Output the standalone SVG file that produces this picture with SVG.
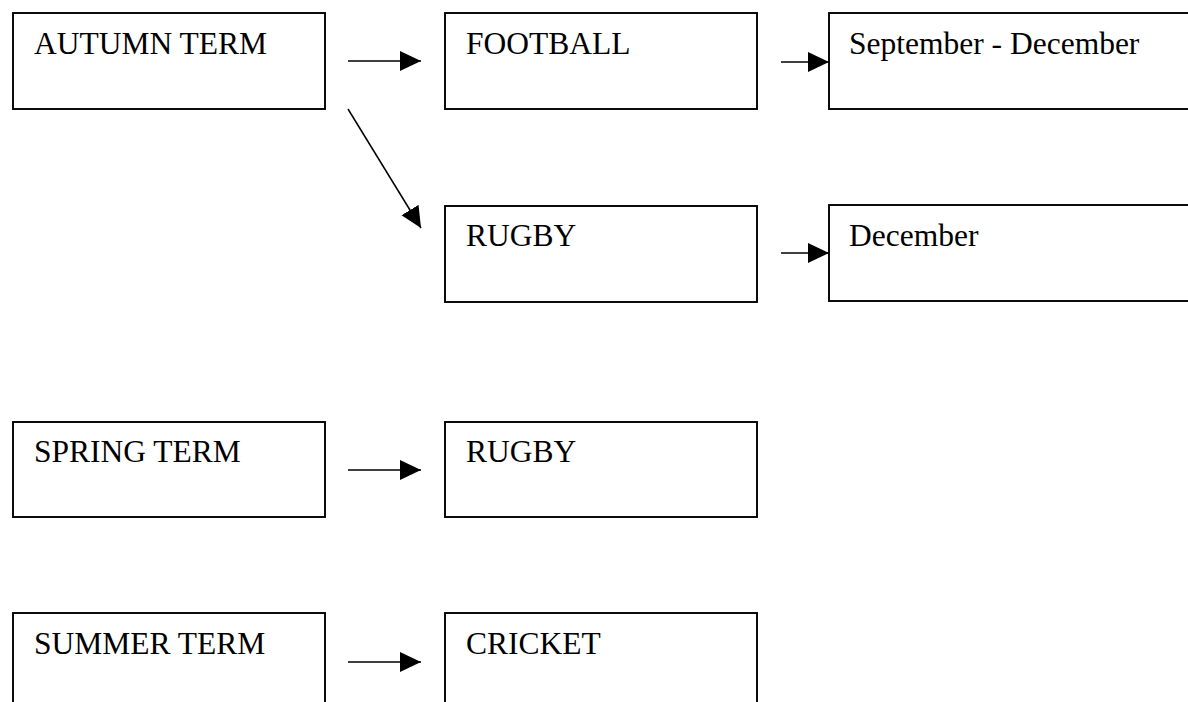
<svg xmlns="http://www.w3.org/2000/svg" width="1188" height="702" viewBox="0 0 1188 702">
<style>
.box{fill:#fff;stroke:#000;stroke-width:1.9}
.lbl{font-family:"Liberation Serif","Times New Roman",serif;font-size:31.5px;fill:#000}
.conn{stroke:#000;stroke-width:1.5;fill:none;marker-end:url(#ah)}
</style>
<defs>
<marker id="ah" markerUnits="userSpaceOnUse" markerWidth="21" markerHeight="21" refX="21" refY="10" orient="auto">
<path d="M0,0 L21,10 L0,20 Z" fill="#000"/>
</marker>
</defs>
<rect width="1188" height="702" fill="#fff"/>
<g id="autumn"><rect class="box" x="13" y="13" width="312" height="96"/><text class="lbl" x="34" y="54">AUTUMN TERM</text></g>
<g id="football"><rect class="box" x="445" y="13" width="312" height="96"/><text class="lbl" x="466" y="54">FOOTBALL</text></g>
<g id="sepdec"><rect class="box" x="829" y="13" width="400" height="96"/><text class="lbl" x="849" y="54">September - December</text></g>
<g id="rugby1"><rect class="box" x="445" y="206" width="312" height="96"/><text class="lbl" x="466" y="246">RUGBY</text></g>
<g id="december"><rect class="box" x="829" y="205" width="400" height="96"/><text class="lbl" x="849" y="246">December</text></g>
<g id="spring"><rect class="box" x="13" y="422" width="312" height="95"/><text class="lbl" x="34" y="462">SPRING TERM</text></g>
<g id="rugby2"><rect class="box" x="445" y="422" width="312" height="95"/><text class="lbl" x="466" y="462">RUGBY</text></g>
<g id="summer"><rect class="box" x="13" y="613" width="312" height="120"/><text class="lbl" x="34" y="654">SUMMER TERM</text></g>
<g id="cricket"><rect class="box" x="445" y="613" width="312" height="120"/><text class="lbl" x="466" y="654">CRICKET</text></g>
<g id="connectors">
<line class="conn" x1="348" y1="61" x2="421" y2="61"/>
<line class="conn" x1="781" y1="62" x2="829" y2="62"/>
<line class="conn" x1="348" y1="109" x2="421" y2="228"/>
<line class="conn" x1="781" y1="253" x2="829" y2="253"/>
<line class="conn" x1="348" y1="470" x2="421" y2="470"/>
<line class="conn" x1="348" y1="662" x2="421" y2="662"/>
</g>
</svg>
